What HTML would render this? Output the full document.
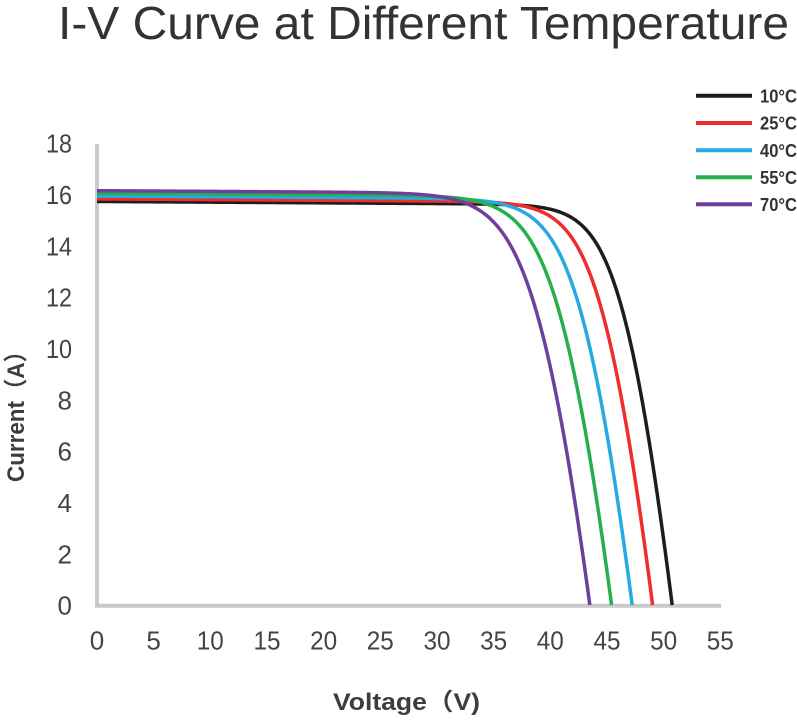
<!DOCTYPE html>
<html>
<head>
<meta charset="utf-8">
<style>
  html,body{margin:0;padding:0;background:#fff;}
  svg{display:block;}
  text{font-family:"Liberation Sans","Noto Sans CJK SC",sans-serif;}
</style>
</head>
<body>
<svg id="chart" width="797" height="723" viewBox="0 0 797 723" xmlns="http://www.w3.org/2000/svg">
  <rect width="797" height="723" fill="#fff"/>
  <!-- Title -->
  <text x="58" y="39" font-size="46" fill="#333" textLength="731" lengthAdjust="spacingAndGlyphs">I-V Curve at Different Temperature</text>

  <!-- Axes -->
  <line x1="97" y1="144" x2="97" y2="607.5" stroke="#c9c9c9" stroke-width="4"/>
  <line x1="95" y1="605.7" x2="721" y2="605.7" stroke="#c9c9c9" stroke-width="4"/>

  <!-- Y tick labels -->
  <g font-size="26" fill="#444" text-anchor="end">
    <text x="72" y="152.7" textLength="26" lengthAdjust="spacingAndGlyphs">18</text>
    <text x="72" y="204" textLength="26" lengthAdjust="spacingAndGlyphs">16</text>
    <text x="72" y="255.4" textLength="26" lengthAdjust="spacingAndGlyphs">14</text>
    <text x="72" y="306.7" textLength="26" lengthAdjust="spacingAndGlyphs">12</text>
    <text x="72" y="358" textLength="26" lengthAdjust="spacingAndGlyphs">10</text>
    <text x="72" y="409.4">8</text>
    <text x="72" y="460.7">6</text>
    <text x="72" y="512">4</text>
    <text x="72" y="563.4">2</text>
    <text x="72" y="614.7">0</text>
  </g>

  <!-- X tick labels -->
  <g font-size="26" fill="#444" text-anchor="middle">
    <text x="97" y="649.3">0</text>
    <text x="153.6" y="649.3">5</text>
    <text x="210.3" y="649.3" textLength="27" lengthAdjust="spacingAndGlyphs">10</text>
    <text x="267" y="649.3" textLength="27" lengthAdjust="spacingAndGlyphs">15</text>
    <text x="323.6" y="649.3" textLength="27" lengthAdjust="spacingAndGlyphs">20</text>
    <text x="380.3" y="649.3" textLength="27" lengthAdjust="spacingAndGlyphs">25</text>
    <text x="437" y="649.3" textLength="27" lengthAdjust="spacingAndGlyphs">30</text>
    <text x="493.6" y="649.3" textLength="27" lengthAdjust="spacingAndGlyphs">35</text>
    <text x="550.3" y="649.3" textLength="27" lengthAdjust="spacingAndGlyphs">40</text>
    <text x="607" y="649.3" textLength="27" lengthAdjust="spacingAndGlyphs">45</text>
    <text x="663.6" y="649.3" textLength="27" lengthAdjust="spacingAndGlyphs">50</text>
    <text x="720.3" y="649.3" textLength="27" lengthAdjust="spacingAndGlyphs">55</text>
  </g>

  <!-- Axis titles -->
  <text x="333" y="710" font-size="24" font-weight="bold" fill="#3d3d3d" textLength="147" lengthAdjust="spacingAndGlyphs">Voltage（V)</text>
  <text transform="translate(24,482) rotate(-90)" font-size="24" font-weight="bold" fill="#3d3d3d" textLength="142" lengthAdjust="spacingAndGlyphs">Current（A）</text>

  <!-- Curves container -->
  <g id="curves" fill="none" stroke-width="3.5" stroke-linejoin="round" stroke-linecap="butt"></g>

  <!-- Legend -->
  <g stroke-width="4">
    <line x1="696" y1="95.7" x2="752" y2="95.7" stroke="#1f1c1d"/>
    <line x1="696" y1="123" x2="752" y2="123" stroke="#ee2d2f"/>
    <line x1="696" y1="150.3" x2="752" y2="150.3" stroke="#27a9e1"/>
    <line x1="696" y1="177.3" x2="752" y2="177.3" stroke="#25b04b"/>
    <line x1="696" y1="204.3" x2="752" y2="204.3" stroke="#6f3f9e"/>
  </g>
  <g font-size="18" font-weight="bold" fill="#333">
    <text x="760" y="102.3" textLength="37" lengthAdjust="spacingAndGlyphs">10°C</text>
    <text x="760" y="129.6" textLength="37" lengthAdjust="spacingAndGlyphs">25°C</text>
    <text x="760" y="156.9" textLength="37" lengthAdjust="spacingAndGlyphs">40°C</text>
    <text x="760" y="183.9" textLength="37" lengthAdjust="spacingAndGlyphs">55°C</text>
    <text x="760" y="210.9" textLength="37" lengthAdjust="spacingAndGlyphs">70°C</text>
  </g>
</svg>
<script>
(function(){
  var X = function(v){ return 97 + v*11.327; };
  var Y = function(i){ return 605 - i*25.67; };
  var Rs = 0.165, Rsh = 370;
  var curves = [
    {T:10, Iph:15.72, Voc:50.78, c:'#1f1c1d'},
    {T:25, Iph:15.82, Voc:49.05, c:'#ee2d2f'},
    {T:40, Iph:15.93, Voc:47.25, c:'#27a9e1'},
    {T:55, Iph:16.04, Voc:45.43, c:'#25b04b'},
    {T:70, Iph:16.14, Voc:43.51, c:'#6f3f9e'}
  ];
  var g = document.getElementById('curves');
  curves.forEach(function(cv){
    var a = 1.875*(cv.T+273)/283;
    var I0 = (cv.Iph - cv.Voc/Rsh)/(Math.exp(cv.Voc/a)-1);
    function solve(V){
      var lo=0, hi=cv.Iph+0.5;
      for(var k=0;k<60;k++){
        var m=(lo+hi)/2;
        var f = cv.Iph - V/Rsh - I0*(Math.exp((V+m*Rs)/a)-1) - m;
        if(f>0) lo=m; else hi=m;
      }
      return (lo+hi)/2;
    }
    var d = '';
    var step = 0.1;
    for(var V=0; V<cv.Voc; V+=step){
      var I = solve(V);
      d += (d?'L':'M') + X(V).toFixed(2) + ' ' + Y(I).toFixed(2) + ' ';
    }
    d += 'L' + X(cv.Voc).toFixed(2) + ' ' + Y(0).toFixed(2);
    var p = document.createElementNS('http://www.w3.org/2000/svg','path');
    p.setAttribute('d', d);
    p.setAttribute('stroke', cv.c);
    g.appendChild(p);
  });
})();
</script>
</body>
</html>
